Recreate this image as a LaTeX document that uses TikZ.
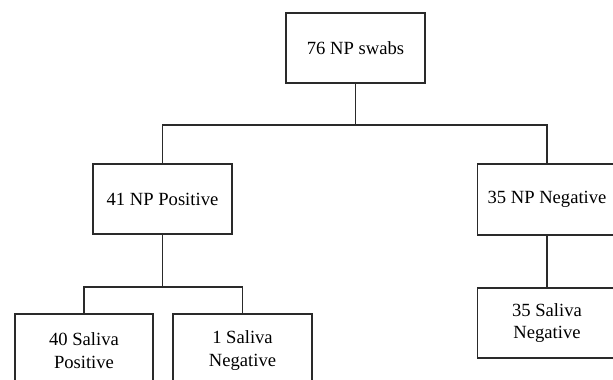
\documentclass[tikz,border=0pt]{standalone}
\usepackage{fontspec}
\setmainfont{Liberation Serif}
\definecolor{ln}{HTML}{2A2A2A}
\begin{document}
\begin{tikzpicture}[x=1pt,y=-1pt,
  box/.style={draw=ln,line width=1.7pt,rectangle,minimum width=139pt,minimum height=70pt,
    align=center,inner sep=0pt,font=\fontsize{18.6}{22.5}\selectfont,text=black},
  conn/.style={draw=ln,line width=1.7pt}]
\useasboundingbox (0,0) rectangle (613,380);
\clip (0,0) rectangle (613,380);
\fill[white] (0,0) rectangle (613,380);
\node[box] (top) at (355.5,48) {76 NP swabs};
\node[box] (pos) at (162.5,199) {41 NP Positive};
\node[box,minimum height=71pt] (neg) at (547,199.5) {35 NP Negative};
\node[box,minimum width=138pt,minimum height=73pt] (sp) at (84,350.5) {40 Saliva\\Positive};
\node[box,minimum height=73pt] (sn) at (242.5,350.5) {1 Saliva\\Negative};
\node[box] (snn) at (547,323) {35 Saliva\\Negative};
\coordinate (b1) at (355.5,125);
\coordinate (b2) at (162.5,287);
\draw[conn] (top.south) -- (b1);
\draw[conn] (pos.north) |- (b1);
\draw[conn] (neg.north) |- (b1);
\draw[conn] (pos.south) -- (b2);
\draw[conn] (sp.north) |- (b2);
\draw[conn] (sn.north) |- (b2);
\draw[conn] (neg.south) -- (snn.north);
\end{tikzpicture}
\end{document}
